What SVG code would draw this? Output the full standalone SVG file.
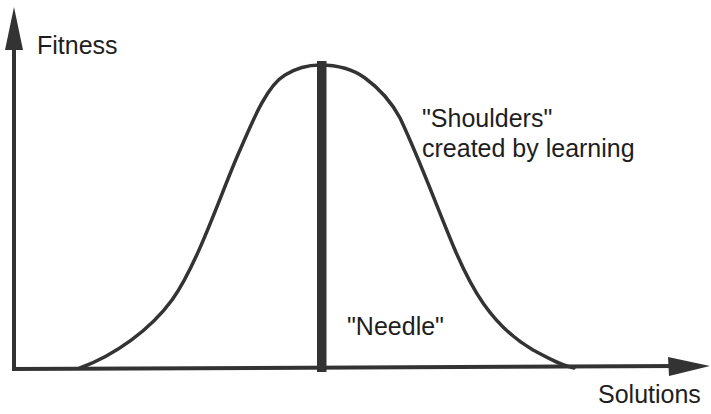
<svg xmlns="http://www.w3.org/2000/svg" width="711" height="414" viewBox="0 0 711 414">
<style>
.ax{stroke:#333;stroke-width:4;fill:none}
.curve{stroke:#333;stroke-width:3.5;fill:none;stroke-linecap:round}
.head{fill:#333}
text{font-family:"Liberation Sans",Arial,sans-serif;font-size:25px;fill:#1e1e1e}
</style>
<rect width="711" height="414" fill="#fff"/>
<g id="connectors">
<line class="ax" x1="14" y1="371" x2="14" y2="40"/>
<polygon class="head" points="14,7 23,50 5,50"/>
<line class="ax" x1="12" y1="369" x2="680" y2="366"/>
<polygon class="head" points="710,366 668,357 669,376"/>
</g>
<g id="curve">
<path class="curve" d="M80,368 C115,355 150,330 172,300 C198,264 222,190 240,150 C255,115 268,85 285,75 C298,67 308,65 320,65 C335,65 350,67 365,78 C380,89 392,103 400,118 C420,160 438,210 455,250 C470,285 490,325 533,350 C548,358 560,365 574,368"/>
</g>
<g id="needle">
<rect x="317" y="61" width="9.5" height="311" fill="#333"/>
</g>
<g id="labels">
<text x="37" y="54">Fitness</text>
<text x="422" y="127" font-size="25.5">"Shoulders"</text>
<text x="422" y="157" font-size="25.5">created by learning</text>
<text x="347" y="335" font-size="25.5">"Needle"</text>
<text x="598" y="403" font-size="24.5">Solutions</text>
</g>
</svg>
